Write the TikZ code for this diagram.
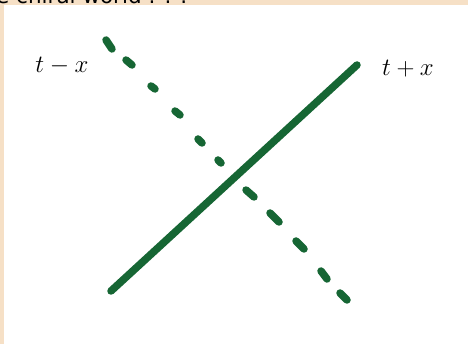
\documentclass[tikz,border=0pt]{standalone}
\usepackage{fontspec}
\newfontfamily\capfont{DejaVu Sans}
\definecolor{beige}{RGB}{246,224,198}
\definecolor{pen}{RGB}{22,102,52}
\begin{document}
\begin{tikzpicture}[x=1pt,y=-1pt,
  stroke/.style={pen, line width=7.5pt, line cap=round},
  hand/.style={font=\fontsize{24}{24}\selectfont, inner sep=0pt}]
\useasboundingbox (0,0) rectangle (468,344);
\fill[beige] (0,0) rectangle (468,344);
\fill[white] (4,5) rectangle (468,344);
\begin{scope}
\clip (0,0) rectangle (468,5);
\node[anchor=base west, inner sep=0pt, font=\capfont\fontsize{21.5}{21.5}\selectfont] (cap) at (-4,4) {e chiral world . . .};
\end{scope}
% solid line
\coordinate (s1) at (111,291);
\coordinate (s2) at (357,65);
\draw[stroke] (s1) -- (s2);
% dashed line, drawn dash by dash
\foreach \ax/\ay/\bx/\by [count=\i] in {106/40/112/49, 126/60/132/65, 151/86/155/89, 175/111/180/115, 198/139/202/143, 218/160/221/163, 246/190/254/197, 270/213/279/222, 296/241/304/249, 321/271/327/279, 340/293/347/300}{
  \coordinate (d\i a) at (\ax,\ay);
  \coordinate (d\i b) at (\bx,\by);
  \draw[stroke] (d\i a) -- (d\i b);
}
\node[hand] (lm) at (62,66) {$t - x$};
\node[hand] (lp) at (408,69) {$t + x$};
\end{tikzpicture}
\end{document}
